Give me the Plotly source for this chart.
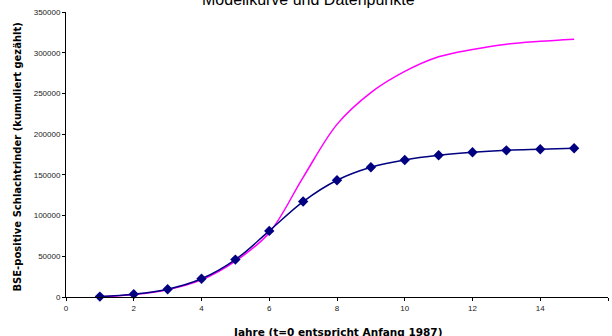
import plotly.graph_objects as go

years = [1, 2, 3, 4, 5, 6, 7, 8, 9, 10, 11, 12, 13, 14, 15]
data_points = [500, 3500, 9600, 22400, 45900, 81200, 117200, 143400, 159300,
               168300, 174000, 177700, 180100, 181400, 182600]
model_curve = [0, 3000, 9000, 21000, 44000, 79000, 147000, 212000, 251000,
               277000, 295000, 304000, 310500, 314000, 316600]

x_ticks = [0, 2, 4, 6, 8, 10, 12, 14, 16]
y_ticks = [0, 50000, 100000, 150000, 200000, 250000, 300000, 350000]

title_text = "Modellkurve und Datenpunkte"
x_title = "Jahre (t=0 entspricht Anfang 1987)"
y_title = "BSE-positive Schlachtrinder (kumuliert gezählt)"

fig = go.Figure()
fig.add_trace(go.Scatter(
    x=years, y=model_curve, mode="lines",
    line=dict(color="#FF00FF", width=1.5, shape="spline"),
    showlegend=False, cliponaxis=False))
fig.add_trace(go.Scatter(
    x=years, y=data_points, mode="lines+markers",
    line=dict(color="#000080", width=1.5, shape="spline"),
    marker=dict(symbol="diamond", size=8, color="#000080"),
    showlegend=False, cliponaxis=False))

axis_font = dict(family="Liberation Sans, Arial, sans-serif", size=8, color="#222222")
fig.update_layout(
    width=612, height=336,
    margin=dict(l=66, r=4, t=12, b=39),
    paper_bgcolor="white", plot_bgcolor="white",
    xaxis=dict(range=[0, 16], tickvals=x_ticks, ticks="outside", ticklen=3,
               tickcolor="black", showline=True, linecolor="black", linewidth=1,
               showgrid=False, zeroline=False, tickfont=axis_font),
    yaxis=dict(range=[0, 350000], tickvals=y_ticks, ticks="outside", ticklen=3,
               tickcolor="black", showline=True, linecolor="black", linewidth=1,
               showgrid=False, zeroline=False, tickfont=axis_font,
               tickformat="d"),
    annotations=[
        dict(text=title_text, xref="paper", yref="paper", x=0.448, y=1.045,
             xanchor="center", yanchor="middle", showarrow=False,
             font=dict(family="Liberation Sans, Arial, sans-serif", size=16, color="black")),
        dict(text="<b>" + x_title + "</b>", xref="paper", yref="paper",
             x=0.5, y=-0.123, xanchor="center", yanchor="middle", showarrow=False,
             font=dict(family="DejaVu Sans, sans-serif", size=10.5, color="black")),
        dict(text="<b>" + y_title + "</b>", xref="paper", yref="paper",
             x=-0.09, y=0.49, xanchor="center", yanchor="middle", showarrow=False,
             textangle=-90,
             font=dict(family="DejaVu Sans, sans-serif", size=10, color="black")),
    ],
)

fig.write_html("out.html", config={"displayModeBar": False},
               post_script="document.body.style.margin='0';document.body.style.overflow='hidden';")
